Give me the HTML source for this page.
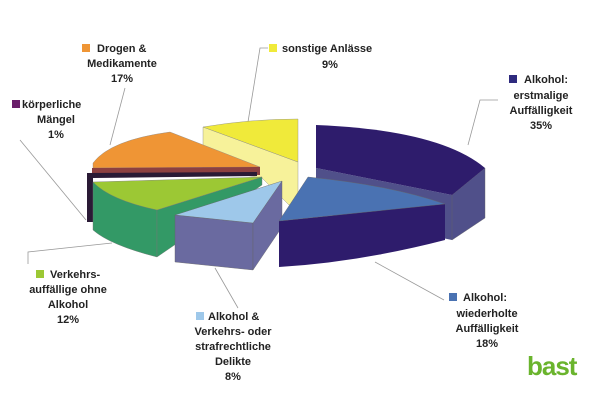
<!DOCTYPE html>
<html><head><meta charset="utf-8"><style>
html,body{margin:0;padding:0;background:#fff}
svg{display:block}
text{font-family:"Liberation Sans",Arial,sans-serif;font-weight:bold;font-size:11px;fill:#222}
</style></head><body>
<svg width="600" height="400" viewBox="0 0 600 400" xmlns="http://www.w3.org/2000/svg">
<g stroke="#999" stroke-width="0.8" fill="none">
<polyline points="125,88 110,145"/>
<polyline points="268,48 260,48 248,122"/>
<polyline points="498,100 480,100 468,145"/>
<polyline points="20,140 86,220"/>
<polyline points="28,264 28,252 112,243"/>
<polyline points="238,308 215,268"/>
<polyline points="444,300 375,262"/>
</g>
<!-- yellow -->
<polygon points="203,127 298,162 298,200 289,205 262,178 203,168" fill="#f7f29a" stroke="#888" stroke-width="0.4"/>
<path d="M203,127 Q250,119 298,119 L298,162 Z" fill="#f0ea3a" stroke="#888" stroke-width="0.4"/>
<!-- orange -->
<path d="M93,163 Q110,140 170,132 L260,167 L93,168 Z" fill="#ef9535" stroke="#888" stroke-width="0.4"/>
<polygon points="92,168 260,167 260,175 92,173" fill="#8c4040"/>
<polygon points="87,173 257,172 257,176 93,178 93,222 87,222" fill="#2a1a35"/>
<!-- green -->
<path d="M93,182 L157,210 L157,257 Q110,245 93,230 Z" fill="#339966" stroke="#777" stroke-width="0.4"/>
<polygon points="157,210 262,177 262,185 157,257" fill="#339966" stroke="#777" stroke-width="0.4"/>
<path d="M93,182 L262,177 L157,210 Q110,200 93,182 Z" fill="#9cc834" stroke="#777" stroke-width="0.4"/>
<!-- light blue -->
<polygon points="175,215 253,223 253,270 175,262" fill="#6a6aa0" stroke="#666" stroke-width="0.4"/>
<polygon points="253,223 282,181 282,227 253,270" fill="#6a6aa0" stroke="#666" stroke-width="0.4"/>
<polygon points="175,215 282,181 253,223" fill="#9ec8ea" stroke="#666" stroke-width="0.4"/>
<!-- dark blue big -->
<polygon points="316,168 452,195 452,240 316,212" fill="#50508a"/>
<path d="M485,168 L452,195 L452,240 L485,218 Z" fill="#50508a" stroke="#666" stroke-width="0.4"/>
<path d="M316,125 Q440,130 485,168 L452,195 L316,168 Z" fill="#2e1c6c"/>
<!-- medium blue -->
<path d="M279,221 L445,204 L445,240 Q360,262 279,267 Z" fill="#2e1c6c"/>
<path d="M279,221 L308,177 Q390,185 445,204 Z" fill="#4a72b2" stroke="#666" stroke-width="0.4"/>
<!-- legends -->
<rect x="82" y="44" width="8" height="8" fill="#ef9535"/>
<text x="97" y="52">Drogen &amp;</text>
<text x="122" y="67" text-anchor="middle">Medikamente</text>
<text x="122" y="82" text-anchor="middle">17%</text>
<rect x="269" y="44" width="8" height="8" fill="#f0ea3a"/>
<text x="282" y="52">sonstige Anlässe</text>
<text x="330" y="68" text-anchor="middle">9%</text>
<rect x="509" y="75" width="8" height="8" fill="#2e2a7e"/>
<text x="524" y="83">Alkohol:</text>
<text x="541" y="99" text-anchor="middle">erstmalige</text>
<text x="541" y="114" text-anchor="middle">Auffälligkeit</text>
<text x="541" y="129" text-anchor="middle">35%</text>
<rect x="12" y="100" width="8" height="8" fill="#6a1e6a"/>
<text x="22" y="108">körperliche</text>
<text x="56" y="123" text-anchor="middle">Mängel</text>
<text x="56" y="138" text-anchor="middle">1%</text>
<rect x="36" y="270" width="8" height="8" fill="#9cc834"/>
<text x="50" y="278">Verkehrs-</text>
<text x="68" y="293" text-anchor="middle">auffällige ohne</text>
<text x="68" y="308" text-anchor="middle">Alkohol</text>
<text x="68" y="323" text-anchor="middle">12%</text>
<rect x="196" y="312" width="8" height="8" fill="#9ec8ea"/>
<text x="208" y="320">Alkohol &amp;</text>
<text x="233" y="335" text-anchor="middle">Verkehrs- oder</text>
<text x="233" y="350" text-anchor="middle">strafrechtliche</text>
<text x="233" y="365" text-anchor="middle">Delikte</text>
<text x="233" y="380" text-anchor="middle">8%</text>
<rect x="449" y="293" width="8" height="8" fill="#4a72b2"/>
<text x="463" y="301">Alkohol:</text>
<text x="487" y="317" text-anchor="middle">wiederholte</text>
<text x="487" y="332" text-anchor="middle">Auffälligkeit</text>
<text x="487" y="347" text-anchor="middle">18%</text>
<text x="527" y="375" style="font-size:26px;fill:#6ab42d;letter-spacing:-1px">bast</text>
</svg>
</body></html>
